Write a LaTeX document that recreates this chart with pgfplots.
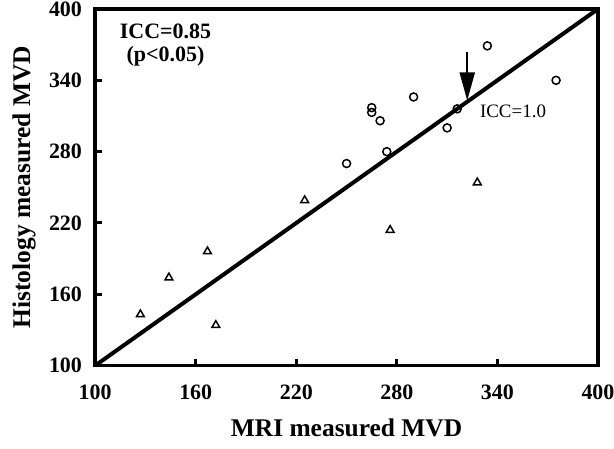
\documentclass[border=0pt]{standalone}
\usepackage{fontspec}
\setmainfont{Liberation Serif}
\usepackage{pgfplots}
\pgfplotsset{compat=1.18}
\usetikzlibrary{arrows.meta}

\begin{document}
\begin{tikzpicture}
\begin{axis}[
    name=ax,
    scale only axis,
    width=502bp,
    height=356bp,
    xmin=100, xmax=400,
    ymin=100, ymax=400,
    xtick={100,160,220,280,340,400},
    ytick={100,160,220,280,340,400},
    axis line style={line width=3.5bp},
    tick style={line width=3bp,black},
    tick align=inside,
    major tick length=7bp,
    xtick pos=bottom,
    ytick pos=left,
    /pgf/number format/assume math mode=true,
    ticklabel style={font=\fontsize{22}{24}\selectfont\bfseries},
    xticklabel style={anchor=center,yshift=-27bp},
    yticklabel style={anchor=east,inner sep=0pt,xshift=-13bp},
    xlabel={MRI measured MVD},
    ylabel={Histology measured MVD},
    label style={font=\fontsize{25.5}{27}\selectfont\bfseries},
    xlabel style={at={(axis description cs:0.5,-0.1742)},anchor=center},
    ylabel style={at={(axis description cs:-0.1414,0.5)},anchor=center},
    clip=false,
]

% identity line
\addplot[black,line width=4bp] coordinates {(100,100) (400,400)};

% circles
\addplot[only marks,mark=o,mark size=4bp,line width=1.5pt,black] coordinates {
    (334,369)
    (375,340)
    (290,326)
    (265,317)
    (265,313)
    (270,306)
    (310,300)
    (316,316)
    (274,280)
    (250,270)
};

% triangles
\addplot[only marks,mark=triangle,mark size=4.5bp,line width=1.5pt,black] coordinates {
    (225,239)
    (167,196)
    (144,174)
    (127,143)
    (172,134)
    (276,214)
    (328,254)
};

\draw[line width=2pt,-{Triangle[width=15bp,length=28bp]}] (axis cs:322,364) -- (axis cs:322,323);
\node[anchor=west,inner sep=0pt,font=\fontsize{19}{20}\selectfont] at (axis cs:329.5,314) {ICC=1.0};
\node[align=center,font=\fontsize{22}{23}\selectfont\bfseries] at (axis cs:142,370) {ICC=0.85\\(p<0.05)};

\end{axis}
\pgfresetboundingbox
\path ([xshift=-95bp,yshift=-83bp]ax.south west) rectangle ([xshift=16bp,yshift=9bp]ax.north east);
\end{tikzpicture}
\end{document}
